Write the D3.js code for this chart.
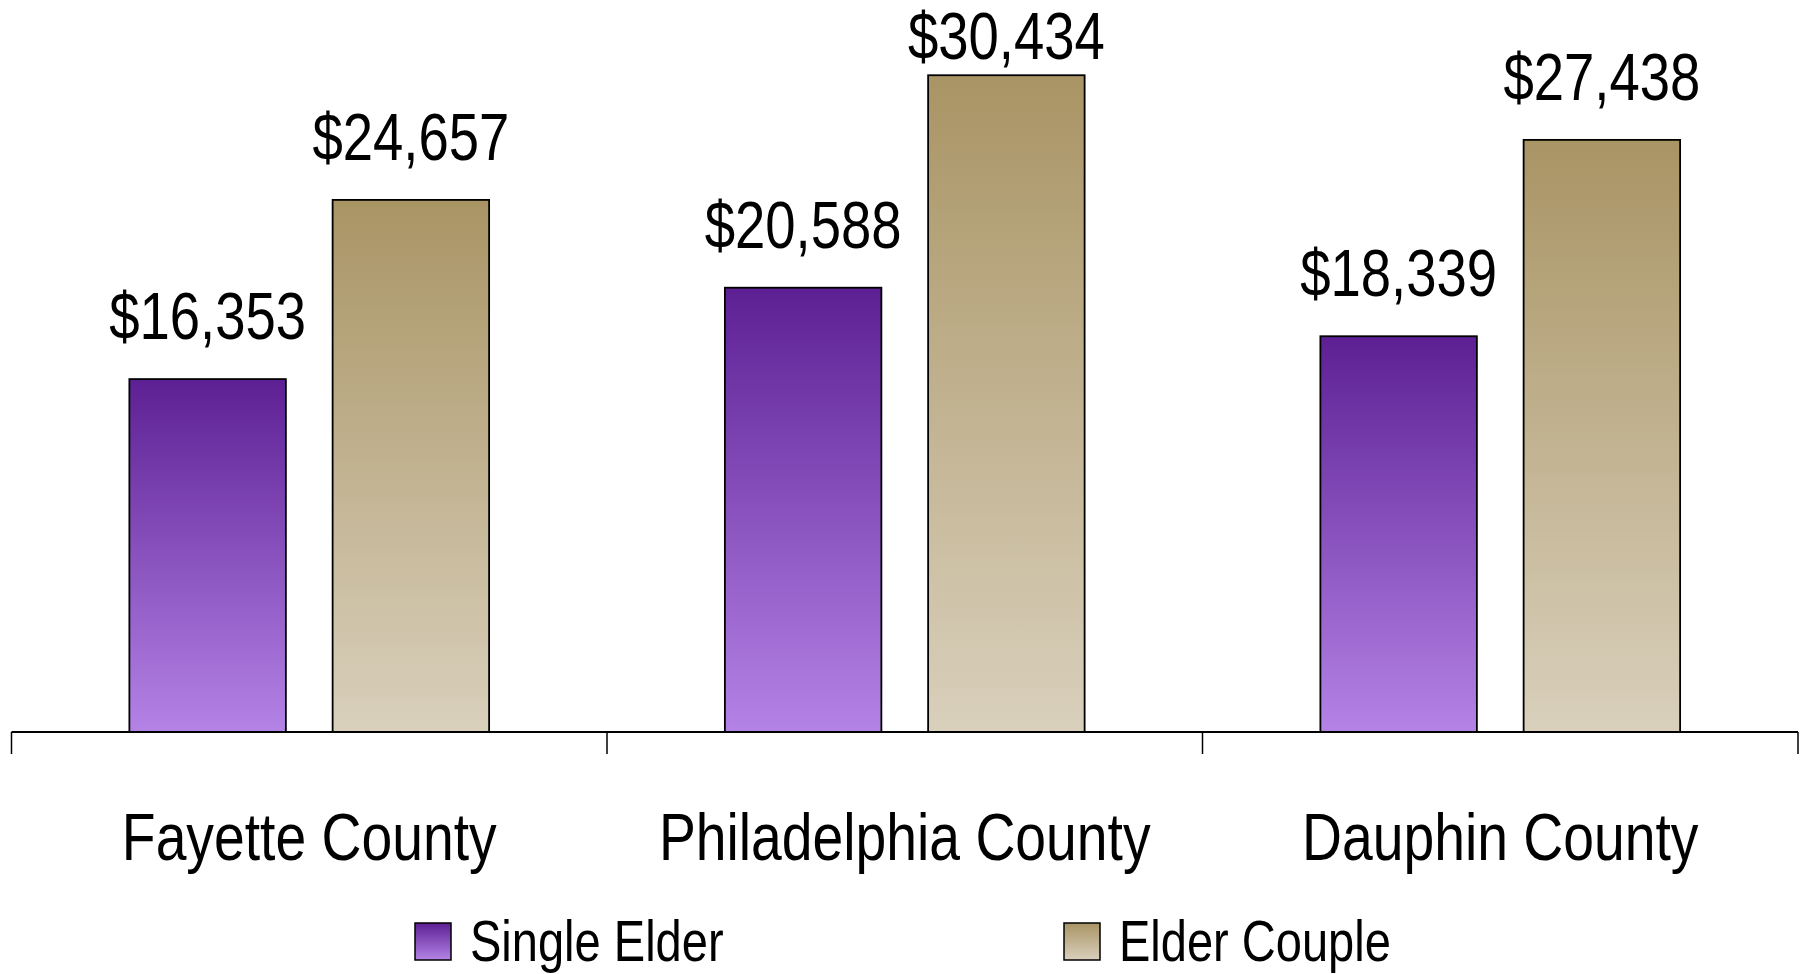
<!DOCTYPE html>
<html lang="en">
<head>
    <meta charset="UTF-8">
    <title>Elder Economic Security Standard by County</title>
    <script src="https://d3js.org/d3.v7.min.js"></script>
    <style>
        body {
            margin: 0;
            background-color: #fff;
        }
        text {
            font-family: "Liberation Sans", Arial, sans-serif;
            fill: #000;
        }
        .bar {
            stroke: #000;
            stroke-width: 1.8px;
        }
        .value-label {
            font-size: 66px;
            text-anchor: middle;
        }
        .cat-label {
            font-size: 67px;
            text-anchor: middle;
        }
        .legend-text {
            font-size: 57px;
        }
    </style>
</head>
<body>
    <div id="chart"></div>

    <script>
        // data
        const counties = ["Fayette County", "Philadelphia County", "Dauphin County"];
        const seriesNames = ["Single Elder", "Elder Couple"];
        const singleElder = [16353, 20588, 18339];
        const elderCouple = [24657, 30434, 27438];

        const width = 1810;
        const height = 974;
        const baseY = 732;
        // the original uses a narrow face; squeeze Liberation Sans to match
        const narrow = 0.825;

        const svg = d3.select("#chart")
            .append("svg")
            .attr("width", width)
            .attr("height", height);

        // gradients
        const defs = svg.append("defs");
        const gradColors = {
            "Single Elder": ["#5d2094", "#b483e6"],
            "Elder Couple": ["#a99464", "#d9d0bc"]
        };
        seriesNames.forEach((s, i) => {
            const g = defs.append("linearGradient")
                .attr("id", "grad" + i)
                .attr("x1", 0).attr("y1", 0)
                .attr("x2", 0).attr("y2", 1);
            g.append("stop").attr("offset", "0%").attr("stop-color", gradColors[s][0]);
            g.append("stop").attr("offset", "100%").attr("stop-color", gradColors[s][1]);
        });

        // scales
        const x = d3.scaleBand()
            .domain(counties)
            .range([11.5, 1798])
            .padding(0);

        const xs = d3.scaleBand()
            .domain(seriesNames)
            .range([0, x.bandwidth()])
            .paddingInner(0.23)
            .paddingOuter(0.58);

        const y = d3.scaleLinear()
            .domain([0, 35000])
            .range([baseY, baseY - 35000 * 0.02158]);

        const rows = counties.map((c, i) => ({
            county: c,
            values: [
                { series: "Single Elder", idx: 0, value: singleElder[i] },
                { series: "Elder Couple", idx: 1, value: elderCouple[i] }
            ]
        }));

        const fmt = d3.format("$,");

        const groups = svg.append("g")
            .selectAll("g")
            .data(rows)
            .enter()
            .append("g")
            .attr("transform", d => `translate(${x(d.county)},0)`);

        groups.selectAll("rect")
            .data(d => d.values)
            .enter()
            .append("rect")
            .attr("class", "bar")
            .attr("x", d => xs(d.series))
            .attr("y", d => y(d.value))
            .attr("width", xs.bandwidth())
            .attr("height", d => y(0) - y(d.value))
            .attr("fill", d => `url(#grad${d.idx})`);

        // labels sit above the bar, but never above the top of the page
        groups.selectAll("text.value-label")
            .data(d => d.values)
            .enter()
            .append("text")
            .attr("class", "value-label")
            .attr("transform", d => {
                const cx = xs(d.series) + xs.bandwidth() / 2;
                const cy = Math.max(y(d.value) - 40, 59);
                return `translate(${cx},${cy}) scale(${narrow},1)`;
            })
            .text(d => fmt(d.value));

        // axis: baseline with ticks at band boundaries
        const axis = svg.append("g");
        axis.append("line")
            .attr("x1", x.range()[0]).attr("x2", x.range()[1])
            .attr("y1", baseY).attr("y2", baseY)
            .attr("stroke", "#000").attr("stroke-width", 2);

        const bounds = counties.map(c => x(c)).concat([x.range()[1]]);
        axis.selectAll("line.tick")
            .data(bounds)
            .enter()
            .append("line")
            .attr("class", "tick")
            .attr("x1", d => d).attr("x2", d => d)
            .attr("y1", baseY).attr("y2", baseY + 22)
            .attr("stroke", "#000").attr("stroke-width", 1.5);

        axis.selectAll("text.cat-label")
            .data(counties)
            .enter()
            .append("text")
            .attr("class", "cat-label")
            .attr("transform", d => `translate(${x(d) + x.bandwidth() / 2},860) scale(${narrow},1)`)
            .text(d => d);

        // legend
        const legendX = [415, 1064];
        const legend = svg.append("g")
            .selectAll("g")
            .data(seriesNames)
            .enter()
            .append("g")
            .attr("transform", (d, i) => `translate(${legendX[i]},923)`);

        legend.append("rect")
            .attr("width", 36)
            .attr("height", 37)
            .attr("fill", (d, i) => `url(#grad${i})`)
            .attr("stroke", "#000")
            .attr("stroke-width", 1.5);

        legend.append("text")
            .attr("class", "legend-text")
            .attr("transform", `translate(55,38) scale(${narrow},1)`)
            .text(d => d);
    </script>
</body>
</html>
